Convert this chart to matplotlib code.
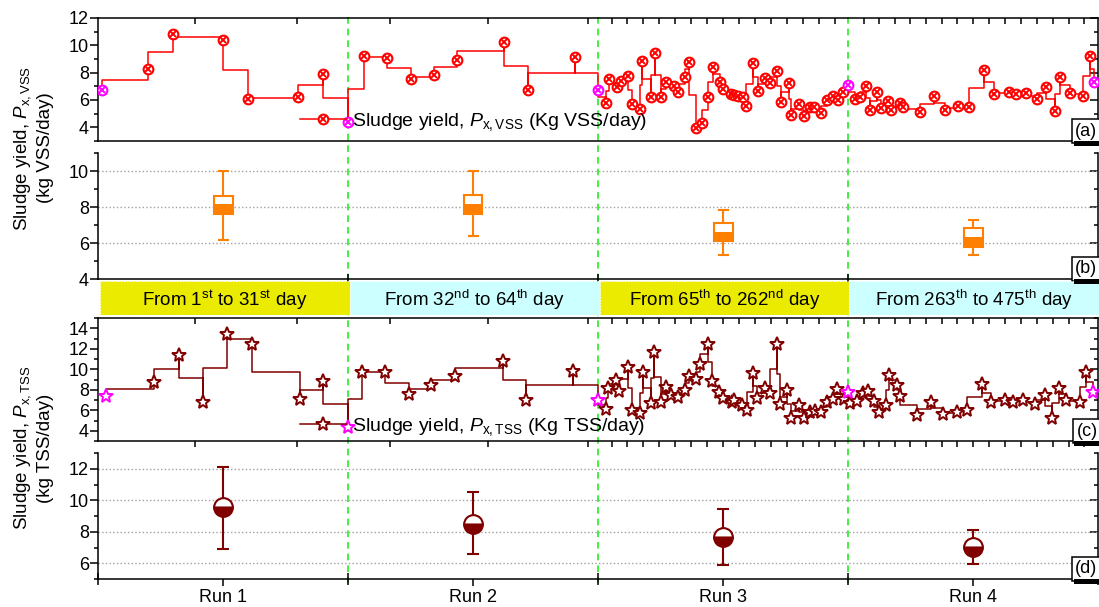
import numpy as np
import matplotlib
matplotlib.use('Agg')
import matplotlib.pyplot as plt
from matplotlib.lines import Line2D
from matplotlib.patches import Rectangle
from matplotlib.legend_handler import HandlerTuple
from matplotlib.ticker import MultipleLocator
from matplotlib.transforms import blended_transform_factory
from matplotlib.markers import TICKDOWN

plt.rcParams['font.family'] = ['Liberation Sans', 'DejaVu Sans']
plt.rcParams['mathtext.fontset'] = 'custom'
plt.rcParams['mathtext.rm'] = 'Liberation Sans'
plt.rcParams['mathtext.it'] = 'Liberation Sans:italic'
plt.rcParams['axes.unicode_minus'] = False

# ---- data -------------------------------------------------------------
RUNS = ['Run 1', 'Run 2', 'Run 3', 'Run 4']
EDGE_DAYS = [0, 31, 64, 262, 475]
BAND_TEXT = [r'From 1$^{\mathrm{st}}$ to 31$^{\mathrm{st}}$ day',
             r'From 32$^{\mathrm{nd}}$ to 64$^{\mathrm{th}}$ day',
             r'From 65$^{\mathrm{th}}$ to 262$^{\mathrm{nd}}$ day',
             r'From 263$^{\mathrm{th}}$ to 475$^{\mathrm{th}}$ day']

# sludge yield P_x,VSS (kg VSS/day)
vss_day = [0.5, 6.2, 9.3, 15.5, 18.6, 24.8, 27.9, 31,
           33.1, 36.2, 39.3, 42.4, 45.4, 51.6, 54.8, 61.0, 64,
           70, 73, 79, 82, 88, 91, 97, 99, 106, 109,
           114, 118, 124, 127, 133, 136, 142, 146, 151, 155,
           161, 163, 169, 172, 175, 179, 181, 187, 191, 196,
           200, 206, 209, 215, 217, 223, 227, 232, 235, 241,
           245, 250, 254, 258, 262,
           268, 272, 277, 281, 287, 290, 296, 299, 306, 309,
           323, 335, 345, 356, 365, 378, 386, 399, 405, 414,
           423, 431, 438, 443, 451, 462, 468, 472]
vss_val = [6.73, 8.24, 10.8, 10.39, 6.05, 6.24, 7.9, 4.41,
           9.22, 9.1, 7.54, 7.85, 8.93, 10.22, 6.73, 9.17, 6.73,
           5.76, 7.51, 6.93, 7.39, 7.76, 5.71, 5.32, 8.85, 6.24, 9.46,
           6.2, 7.34, 7.02, 6.61, 7.71, 8.8, 3.98, 4.34, 6.24, 8.44,
           7.34, 6.78, 6.44, 6.37, 6.32, 6.2, 5.56, 8.73, 6.68, 7.59,
           7.27, 8.12, 5.88, 7.27, 4.9, 5.71, 4.83, 5.51, 5.51, 5.07,
           6.0, 6.32, 6.0, 6.61, 7.1,
           6.05, 6.2, 7.02, 5.27, 6.61, 5.39, 5.95, 5.27, 5.76, 5.46,
           5.15, 6.29, 5.27, 5.56, 5.51, 8.2, 6.44, 6.61, 6.44, 6.54,
           6.05, 6.98, 5.22, 7.66, 6.54, 6.29, 9.22, 7.34]
vss_edge_day = [0.5, 31, 64, 262, 472]

# sludge yield P_x,TSS (kg TSS/day)
tss_day = [1, 6.9, 10.1, 13.0, 16.0, 19.1, 25.0, 27.9, 31,
           32.8, 35.9, 39.0, 42.0, 45.1, 51.4, 54.5, 60.7, 64,
           70, 72, 78, 81, 88, 91, 97, 100, 106, 108,
           114, 118, 122, 127, 133, 136, 142, 145, 151, 154,
           160, 163, 170, 172, 178, 182, 187, 190, 196, 200,
           206, 208, 214, 217, 223, 227, 232, 236, 241, 245,
           250, 253, 259, 262,
           264, 270, 275, 279, 284, 288, 294, 297, 304, 306,
           321, 333, 343, 355, 363, 376, 384, 396, 403, 411,
           421, 430, 436, 442, 448, 460, 465, 471]
tss_val = [7.39, 8.72, 11.39, 6.83, 13.45, 12.44, 7.09, 8.85, 4.4,
           9.71, 9.71, 7.59, 8.47, 9.38, 10.81, 7.0, 9.84, 7.0,
           6.12, 8.2, 8.96, 7.88, 10.26, 6.02, 5.7, 9.71, 6.68, 11.66,
           6.84, 8.3, 7.49, 7.33, 7.98, 9.38, 9.05, 10.5, 12.43, 8.9,
           7.74, 7.16, 6.84, 7.0, 6.51, 6.02, 9.61, 7.16, 8.2, 7.66,
           12.43, 6.58, 7.98, 5.28, 6.51, 5.21, 5.86, 5.93, 5.8, 6.77,
           7.1, 8.07, 7.1, 7.75,
           6.7, 6.93, 7.66, 7.88, 6.93, 5.8, 6.51, 9.45, 8.47, 7.43,
           5.54, 6.77, 5.6, 5.86, 6.02, 8.53, 6.84, 7.0, 6.77, 7.0,
           6.58, 7.49, 5.28, 8.2, 7.0, 6.77, 9.77, 7.75]
tss_edge_day = [1, 31, 64, 262, 471]

# box statistics of VSS yield per run
vss_whisk_lo = [6.19, 6.39, 5.36, 5.36]
vss_q1 = [7.59, 7.62, 6.09, 5.79]
vss_med = [8.15, 8.15, 6.61, 6.34]
vss_q3 = [8.62, 8.66, 7.10, 6.83]
vss_whisk_hi = [10.0, 10.0, 7.83, 7.26]

# mean and range of TSS yield per run
tss_mean = [9.55, 8.49, 7.66, 7.02]
tss_lo = [6.91, 6.60, 5.87, 5.94]
tss_hi = [12.1, 10.53, 9.46, 8.09]

TOP_TICK_DAYS = [12.0, 24.7, 36.5, 49.5, 62.7,
                 74.9, 87.2, 99.9, 112.5, 125.2, 137.4, 150.1, 162.8,
                 175.4, 188.1, 200.8, 213.5, 226.1, 238.8, 251.5,
                 275.6, 288.2, 301.8, 314.8, 328.5, 342.1, 355.1, 368.8,
                 382.4, 396.0, 409.1, 422.8, 436.4, 450.0, 463.1]

# ---- style ------------------------------------------------------------
RED = '#FF0000'
MAROON = '#800000'
MAGENTA = '#FF00FF'
ORANGE = '#FF8000'
GREEN = '#22EE22'
YELLOW = '#EBEB00'
CYAN = '#CCFFFF'
W, H = 1099, 607


def px_box(left, top, right, bottom):
    return [left / W, 1 - bottom / H, (right - left) / W, (bottom - top) / H]


def day_to_run(d):
    return np.interp(d, EDGE_DAYS, [0, 1, 2, 3, 4])


def run_to_day(u):
    return np.interp(u, [0, 1, 2, 3, 4], EDGE_DAYS)


def stair_path(x, y):
    """horizontal runs at the mean of neighbouring points, vertical through each point"""
    x = np.asarray(x, float)
    y = np.asarray(y, float)
    mid = (y[:-1] + y[1:]) / 2
    xs, ys = [x[0]], [y[0]]
    for i in range(len(x) - 1):
        xs += [x[i], x[i + 1], x[i + 1]]
        ys += [mid[i], mid[i], y[i + 1]]
    return xs, ys


def style_y(ax, lo, hi):
    ax.set_ylim(lo, hi)
    ax.yaxis.set_major_locator(MultipleLocator(2))
    ax.yaxis.set_minor_locator(MultipleLocator(1))
    ax.tick_params(axis='y', which='major', direction='out', length=5.5, width=1.1, labelsize=13, pad=1)
    ax.tick_params(axis='y', which='minor', direction='out', length=3, width=1.1)
    sec = ax.secondary_yaxis('right')
    sec.yaxis.set_major_locator(MultipleLocator(2))
    sec.yaxis.set_minor_locator(MultipleLocator(1))
    sec.tick_params(axis='y', which='major', direction='in', length=5.5, width=1.1, labelright=False)
    sec.tick_params(axis='y', which='minor', direction='in', length=3, width=1.1)
    sec.spines['right'].set_linewidth(1.1)
    for s in ax.spines.values():
        s.set_linewidth(1.1)
    ax.spines['right'].set_visible(False)
    ax.set_facecolor('none')


def series_panel(ax, day, val, edge_day, color, marker_layers, ylim, label):
    ax.set_xscale('function', functions=(day_to_run, run_to_day))
    ax.set_xlim(EDGE_DAYS[0], EDGE_DAYS[-1])
    xs, ys = stair_path(day, val)
    ax.plot(xs, ys, color=color, lw=1.1, zorder=2)
    day = np.asarray(day)
    val = np.asarray(val)
    edge = np.isin(day, edge_day)
    for mk in marker_layers:
        ax.plot(day[~edge], val[~edge], ls='none', zorder=3, **mk)
        mk_m = dict(mk)
        mk_m['mec'] = MAGENTA
        ax.plot(day[edge], val[edge], ls='none', zorder=3, **mk_m)
    style_y(ax, *ylim)
    ax.set_xticks(TOP_TICK_DAYS)
    ax.tick_params(axis='x', which='major', top=True, bottom=False, direction='in',
                   length=4, width=1.1, labelbottom=False, labeltop=False)
    handles = [Line2D([], [], color=color, lw=1.1, **marker_layers[0])]
    for mk in marker_layers[1:]:
        handles.append(Line2D([], [], ls='none', **mk))
    ax.legend([tuple(handles)], [label], handler_map={tuple: HandlerTuple(ndivide=1, pad=0)},
              loc='center left', bbox_to_anchor=(0.202, (4.4 - ylim[0]) / (ylim[1] - ylim[0])),
              frameon=False, fontsize=14, handlelength=2.4, handletextpad=0.3,
              borderpad=0, borderaxespad=0)


def panel_tag(ax, text):
    ax.text(0.9995, 0.012, text, transform=ax.transAxes, ha='right', va='bottom', fontsize=13,
            zorder=6, bbox=dict(boxstyle='square,pad=0.18', fc='white', ec='black', lw=1.1))


fig = plt.figure(figsize=(W / 100, H / 100), dpi=100)

ax_a = fig.add_axes(px_box(98, 18, 1098, 141))
ax_b = fig.add_axes(px_box(98, 153, 1098, 279))
ax_band = fig.add_axes(px_box(100, 281, 1099, 315))
ax_c = fig.add_axes(px_box(98, 318, 1098, 441))
ax_d = fig.add_axes(px_box(98, 453, 1098, 579))

pos = np.arange(len(RUNS)) + 0.5

# (a) VSS time series
vss_markers = [dict(marker='o', ms=7, mfc='white', mec=RED, mew=1.5),
               dict(marker='x', ms=4, mec=RED, mew=1.4)]
series_panel(ax_a, vss_day, vss_val, vss_edge_day, RED, vss_markers, (3, 12),
             r'Sludge yield, $P_{\mathrm{x,VSS}}$ (Kg VSS/day)')
panel_tag(ax_a, '(a)')

# (b) VSS box chart
box_w = 0.076
cap = 0.022
q1 = np.array(vss_q1)
ax_b.bar(pos, np.array(vss_q3) - q1, bottom=q1, width=box_w, facecolor='white',
         edgecolor=ORANGE, lw=1.5, zorder=3)
ax_b.bar(pos, np.array(vss_med) - q1, bottom=q1, width=box_w, color=ORANGE, lw=0, zorder=4)
ax_b.vlines(pos, vss_whisk_lo, vss_q1, color=ORANGE, lw=1.5, zorder=2)
ax_b.vlines(pos, vss_q3, vss_whisk_hi, color=ORANGE, lw=1.5, zorder=2)
ax_b.hlines(vss_whisk_lo, pos - cap, pos + cap, color=ORANGE, lw=1.5)
ax_b.hlines(vss_whisk_hi, pos - cap, pos + cap, color=ORANGE, lw=1.5)
ax_b.set_xlim(0, 4)
style_y(ax_b, 4, 11)
ax_b.yaxis.grid(True, ls=':', color='#A0A0A0', lw=1)
ax_b.set_axisbelow(True)
ax_b.spines['top'].set_visible(False)
ax_b.set_xticks([])
ax_b.set_xticks([1, 2, 3], minor=True)
ax_b.tick_params(axis='x', which='minor', direction='inout', length=7, width=1.1)
panel_tag(ax_b, '(b)')

# band with the run periods
ax_band.bar(pos, 1, width=1, bottom=0, color=[YELLOW, CYAN, YELLOW, CYAN],
            edgecolor='white', lw=0.8, ls=':')
for x, t in zip(pos, BAND_TEXT):
    ax_band.text(x, 0.45, t, ha='center', va='center', fontsize=13.5)
ax_band.set_xlim(0.0, 4.0)
ax_band.set_ylim(0, 1)
ax_band.axis('off')

# (c) TSS time series
tss_markers = [dict(marker='*', ms=10.5, mfc='white', mec=MAROON, mew=1.4)]
series_panel(ax_c, tss_day, tss_val, tss_edge_day, MAROON, tss_markers, (3, 15),
             r'Sludge yield, $P_{\mathrm{x,TSS}}$ (Kg TSS/day)')
ax_c.tick_params(axis='x', which='major', bottom=True)
for t in ax_c.xaxis.get_major_ticks():
    t.tick1line.set_marker(TICKDOWN)
panel_tag(ax_c, '(c)')

# (d) TSS mean and range
tm = np.array(tss_mean)
ax_d.errorbar(pos, tm, yerr=[tm - np.array(tss_lo), np.array(tss_hi) - tm], fmt='o',
              ms=13.5, mfc=MAROON, mfcalt='white', fillstyle='bottom', mec=MAROON, mew=1.5,
              ecolor=MAROON, elinewidth=1.5, capsize=4, capthick=1.5, zorder=3)
ax_d.set_xlim(0, 4)
style_y(ax_d, 5, 13)
ax_d.yaxis.grid(True, ls=':', color='#A0A0A0', lw=1)
ax_d.set_axisbelow(True)
ax_d.spines['top'].set_visible(False)
ax_d.set_xticks(pos, RUNS)
ax_d.set_xticks([0, 1, 2, 3, 4], minor=True)
ax_d.tick_params(axis='x', which='major', direction='out', length=5, width=1.1, labelsize=13, pad=2)
ax_d.tick_params(axis='x', which='minor', direction='inout', length=8, width=1.1)
panel_tag(ax_d, '(d)')

# run boundaries through all panels
trans = blended_transform_factory(ax_d.transData, fig.transFigure)
for xb in [1, 2, 3]:
    fig.add_artist(Line2D([xb, xb], [1 - 17 / H, 1 - 583 / H], transform=trans,
                          color=GREEN, lw=1.2, ls=(0, (4, 3)), zorder=-1))

# small black bars under the panel tags
for bottom in [141, 279, 441, 579]:
    fig.add_artist(Rectangle((1074 / W, 1 - (bottom + 5) / H), 25 / W, 5 / H,
                             transform=fig.transFigure, facecolor='black',
                             edgecolor='none', zorder=10))

# shared y labels
fig.text(23 / W, 1 - 148 / H, r'Sludge yield, $P_{\mathrm{x,VSS}}$', rotation=90,
         ha='center', va='center', fontsize=13.5)
fig.text(45 / W, 1 - 148 / H, '(kg VSS/day)', rotation=90, ha='center', va='center', fontsize=13.5)
fig.text(23 / W, 1 - 448 / H, r'Sludge yield, $P_{\mathrm{x,TSS}}$', rotation=90,
         ha='center', va='center', fontsize=13.5)
fig.text(45 / W, 1 - 448 / H, '(kg TSS/day)', rotation=90, ha='center', va='center', fontsize=13.5)

fig.savefig('out.png', dpi=100)
